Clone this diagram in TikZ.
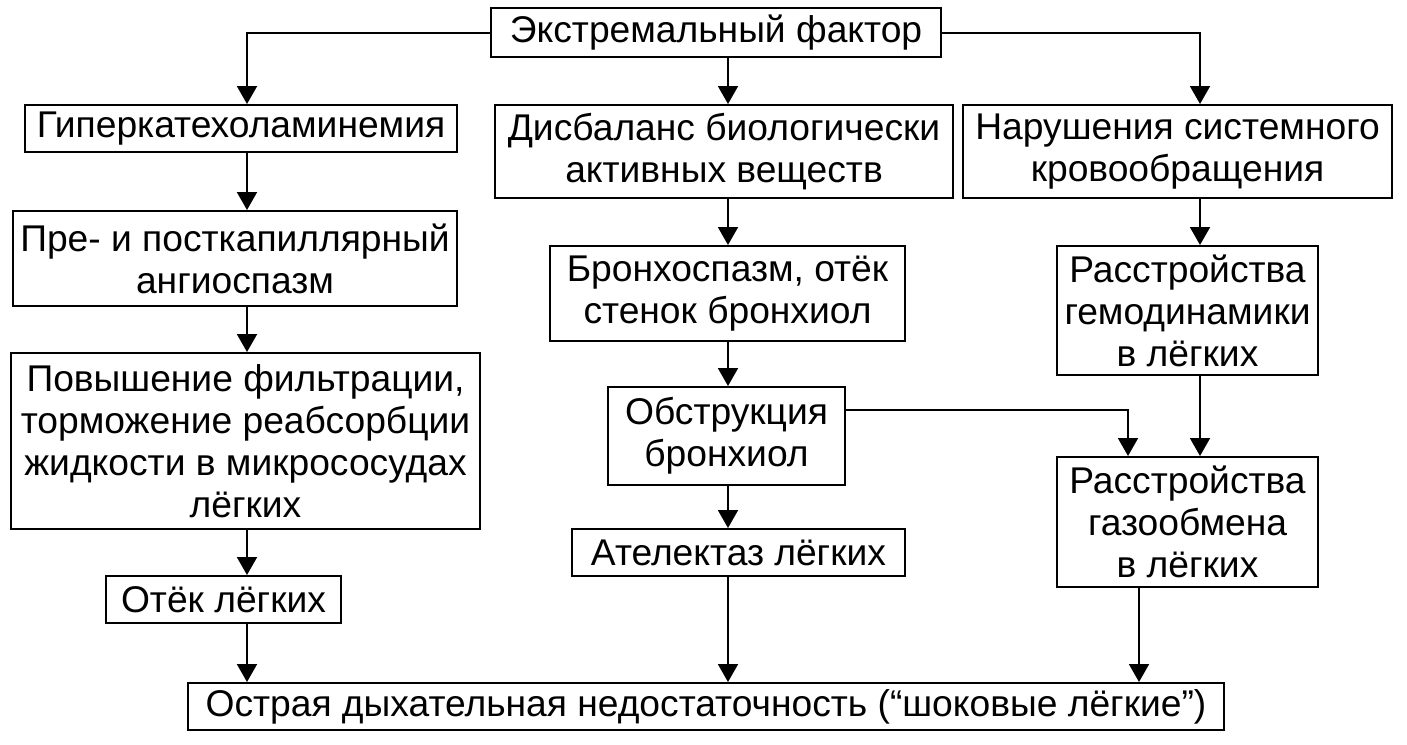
\documentclass[tikz,border=0pt]{standalone}
\usepackage{fontspec}
\setmainfont{Liberation Sans}
\usetikzlibrary{arrows.meta}
\begin{document}
\begin{tikzpicture}[x=0.5pt,y=-0.5pt,
  box/.style={draw,line width=1pt,inner sep=0pt,align=center,
    font=\fontsize{18.6}{21}\selectfont},
  arr/.style={line width=1pt,-{Triangle[length=9pt,width=10pt]}}]
\useasboundingbox (0,0) rectangle (1407,744);
% columns
\coordinate (cL) at (247,0);
\coordinate (cM) at (728,0);
\coordinate (cR) at (1200,0);
\coordinate (cR2) at (1128,0);
\coordinate (cR3) at (1139,0);
% boxes
\node[box,minimum width=225pt,minimum height=24.5pt] (top) at (716,32.5) {Экстремальный фактор};
\node[box,minimum width=216pt,minimum height=23.5pt] (b2) at (241,128.5) {Гиперкатехоламинемия};
\node[box,minimum width=229pt,minimum height=46.5pt] (b3) at (724,151.5) {Дисбаланс биологически\\активных веществ};
\node[box,minimum width=214.5pt,minimum height=46.5pt] (b4) at (1177.5,151.5) {Нарушения системного\\кровообращения};
\node[box,minimum width=222pt,minimum height=47.5pt] (b5) at (235,258.5) {Пре- и посткапиллярный\\ангиоспазм};
\node[box,minimum width=234.5pt,minimum height=88pt] (b6) at (245.5,441) {Повышение фильтрации,\\торможение реабсорбции\\жидкости в микрососудах\\лёгких};
\node[box,minimum width=117.5pt,minimum height=23.5pt] (b7) at (223.5,599.5) {Отёк лёгких};
\node[box,minimum width=177.5pt,minimum height=47.5pt] (b8) at (727.5,293.5) {Бронхоспазм, отёк\\стенок бронхиол};
\node[box,minimum width=118.5pt,minimum height=49pt] (b9) at (726.5,436) {Обструкция\\бронхиол};
\node[box,minimum width=166.5pt,minimum height=23.5pt] (b10) at (738.5,552.5) {Ателектаз лёгких};
\node[box,minimum width=130.5pt,minimum height=64.5pt] (b11) at (1187.5,310.5) {Расстройства\\гемодинамики\\в лёгких};
\node[box,minimum width=130.5pt,minimum height=65pt] (b12) at (1187.5,522) {Расстройства\\газообмена\\в лёгких};
\node[box,minimum width=518pt,minimum height=23.5pt] (b13) at (706,706.5) {Острая дыхательная недостаточность (“шоковые лёгкие”)};
% connectors
\draw[arr] (top.west) -| (b2.north -| cL);
\draw[arr] (top.south -| cM) -- (b3.north -| cM);
\draw[arr] (top.east) -| (b4.north -| cR);
\draw[arr] (b2.south -| cL) -- (b5.north -| cL);
\draw[arr] (b5.south -| cL) -- (b6.north -| cL);
\draw[arr] (b6.south -| cL) -- (b7.north -| cL);
\draw[arr] (b7.south -| cL) -- (b13.north -| cL);
\draw[arr] (b3.south -| cM) -- (b8.north -| cM);
\draw[arr] (b8.south -| cM) -- (b9.north -| cM);
\draw[arr] (b9.south -| cM) -- (b10.north -| cM);
\draw[arr] (b10.south -| cM) -- (b13.north -| cM);
\draw[arr] (b4.south -| cR) -- (b11.north -| cR);
\draw[arr] (b11.south -| cR) -- (b12.north -| cR);
\path (b9.north east) ++(0,24) coordinate (obs);
\draw[arr] (obs) -| (b12.north -| cR2);
\draw[arr] (b12.south -| cR3) -- (b13.north -| cR3);
\end{tikzpicture}
\end{document}
